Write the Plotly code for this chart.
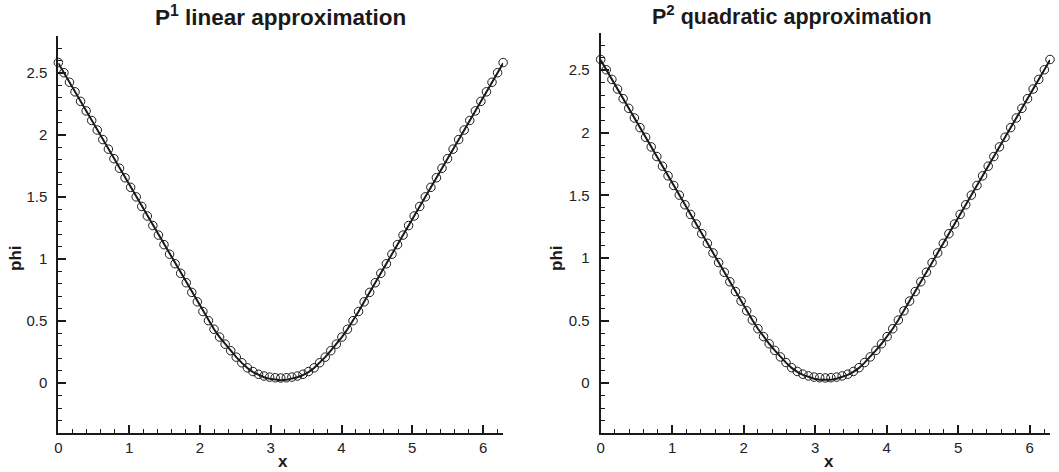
import plotly.graph_objects as go

x_vals = [0.0000, 0.0785, 0.1571, 0.2356, 0.3142, 0.3927, 0.4712, 0.5498, 0.6283, 0.7069,
          0.7854, 0.8639, 0.9425, 1.0210, 1.0996, 1.1781, 1.2566, 1.3352, 1.4137, 1.4923,
          1.5708, 1.6493, 1.7279, 1.8064, 1.8850, 1.9635, 2.0420, 2.1206, 2.1991, 2.2777,
          2.3562, 2.4347, 2.5133, 2.5918, 2.6704, 2.7489, 2.8274, 2.9060, 2.9845, 3.0631,
          3.1416,
          3.2201, 3.2987, 3.3772, 3.4558, 3.5343, 3.6128, 3.6914, 3.7699, 3.8485, 3.9270,
          4.0055, 4.0841, 4.1626, 4.2412, 4.3197, 4.3982, 4.4768, 4.5553, 4.6339, 4.7124,
          4.7909, 4.8695, 4.9480, 5.0265, 5.1051, 5.1836, 5.2622, 5.3407, 5.4192, 5.4978,
          5.5763, 5.6549, 5.7334, 5.8119, 5.8905, 5.9690, 6.0476, 6.1261, 6.2046, 6.2832]

phi_exact = [2.580, 2.503, 2.426, 2.349, 2.272, 2.195, 2.118, 2.041, 1.964, 1.887,
             1.810, 1.733, 1.656, 1.579, 1.502, 1.425, 1.348, 1.271, 1.194, 1.117,
             1.040, 0.963, 0.886, 0.810, 0.732, 0.656, 0.578, 0.504, 0.435, 0.372,
             0.315, 0.262, 0.210, 0.164, 0.122, 0.090, 0.066, 0.048, 0.035, 0.027,
             0.024,
             0.027, 0.035, 0.048, 0.066, 0.090, 0.122, 0.164, 0.210, 0.262, 0.315,
             0.372, 0.435, 0.504, 0.578, 0.656, 0.732, 0.810, 0.886, 0.963, 1.040,
             1.117, 1.194, 1.271, 1.348, 1.425, 1.502, 1.579, 1.656, 1.733, 1.810,
             1.887, 1.964, 2.041, 2.118, 2.195, 2.272, 2.349, 2.426, 2.503, 2.580]

phi_p1 = [2.585, 2.503, 2.426, 2.349, 2.272, 2.195, 2.118, 2.041, 1.964, 1.887,
          1.810, 1.733, 1.656, 1.579, 1.502, 1.425, 1.348, 1.271, 1.194, 1.117,
          1.040, 0.963, 0.886, 0.810, 0.732, 0.656, 0.578, 0.504, 0.435, 0.372,
          0.315, 0.262, 0.210, 0.165, 0.124, 0.094, 0.072, 0.058, 0.049, 0.044,
          0.042,
          0.044, 0.049, 0.058, 0.072, 0.094, 0.124, 0.165, 0.210, 0.262, 0.315,
          0.372, 0.435, 0.504, 0.578, 0.656, 0.732, 0.810, 0.886, 0.963, 1.040,
          1.117, 1.194, 1.271, 1.348, 1.425, 1.502, 1.579, 1.656, 1.733, 1.810,
          1.887, 1.964, 2.041, 2.118, 2.195, 2.272, 2.349, 2.426, 2.503, 2.585]

phi_p2 = [2.585, 2.503, 2.426, 2.349, 2.272, 2.195, 2.118, 2.041, 1.964, 1.887,
          1.810, 1.733, 1.656, 1.579, 1.502, 1.425, 1.348, 1.271, 1.194, 1.117,
          1.040, 0.963, 0.886, 0.810, 0.732, 0.656, 0.578, 0.504, 0.435, 0.372,
          0.315, 0.262, 0.210, 0.165, 0.124, 0.094, 0.072, 0.058, 0.049, 0.044,
          0.042,
          0.044, 0.049, 0.058, 0.072, 0.094, 0.124, 0.165, 0.210, 0.262, 0.315,
          0.372, 0.435, 0.504, 0.578, 0.656, 0.732, 0.810, 0.886, 0.963, 1.040,
          1.117, 1.194, 1.271, 1.348, 1.425, 1.502, 1.579, 1.656, 1.733, 1.810,
          1.887, 1.964, 2.041, 2.118, 2.195, 2.272, 2.349, 2.426, 2.503, 2.585]

titles = ["P<sup>1</sup> linear approximation", "P<sup>2</sup> quadratic approximation"]
x_ticks = [0, 1, 2, 3, 4, 5, 6]
y_ticks = [0, 0.5, 1, 1.5, 2, 2.5]
y_labels = ["0", "0.5", "1", "1.5", "2", "2.5"]

FONT = "Liberation Sans, Arial, sans-serif"
INK = "#1a1a1a"

fig = go.Figure()
for numeric, sfx in [(phi_p1, ""), (phi_p2, "2")]:
    fig.add_trace(go.Scatter(x=x_vals, y=phi_exact, mode="lines",
                             line=dict(color=INK, width=2),
                             xaxis="x" + sfx, yaxis="y" + sfx, showlegend=False,
                             cliponaxis=False, hoverinfo="skip"))
    fig.add_trace(go.Scatter(x=x_vals, y=numeric, mode="markers",
                             marker=dict(symbol="circle-open", size=8.5,
                                         color=INK, line=dict(width=1)),
                             xaxis="x" + sfx, yaxis="y" + sfx, showlegend=False,
                             cliponaxis=False))

xax = dict(range=[0, 6.2832], tickvals=x_ticks, ticks="inside", ticklen=8, tickwidth=1.6,
           tickcolor=INK, showline=True, linewidth=2, linecolor=INK,
           showgrid=False, zeroline=False, tickfont=dict(family=FONT, size=15, color="#222"),
           minor=dict(dtick=0.2, tick0=0, ticks="inside", ticklen=4, tickwidth=1.2,
                      tickcolor=INK, showgrid=False),
           fixedrange=True)
yax = dict(range=[-0.4, 2.8], tickvals=y_ticks, ticktext=y_labels, ticks="inside", ticklen=8,
           tickwidth=1.6, tickcolor=INK, showline=True, linewidth=2,
           linecolor=INK, showgrid=False, zeroline=False, ticklabelstandoff=6,
           tickfont=dict(family=FONT, size=15, color="#222"),
           minor=dict(dtick=0.1, tick0=0, ticks="inside", ticklen=4, tickwidth=1.2,
                      tickcolor=INK, showgrid=False),
           fixedrange=True)

fig.update_layout(
    width=1059, height=472,
    margin=dict(l=0, r=0, t=0, b=0, autoexpand=False),
    paper_bgcolor="white", plot_bgcolor="white",
    xaxis=dict(xax, domain=[0.0551, 0.4751], anchor="y", automargin=False),
    yaxis=dict(yax, domain=[0.083, 0.924], anchor="x", automargin=False),
    xaxis2=dict(xax, domain=[0.5672, 0.9915], anchor="y2", automargin=False),
    yaxis2=dict(yax, domain=[0.082, 0.931], anchor="x2", automargin=False),
)

annots = [
    dict(text="<b>" + titles[0] + "</b>", x=280, y=16, size=22.5),
    dict(text="<b>" + titles[1] + "</b>", x=792, y=15, size=21.5),
    dict(text="<b>x</b>", x=283, y=461, size=17),
    dict(text="<b>x</b>", x=829, y=461, size=17),
]
for a in annots:
    fig.add_annotation(text=a["text"], xref="paper", yref="paper",
                       x=a["x"] / 1059, y=1 - a["y"] / 472, xanchor="center", yanchor="middle",
                       showarrow=False,
                       font=dict(family=FONT, size=a["size"], color=INK))
for px in (15, 556):
    fig.add_annotation(text="<b>phi</b>", xref="paper", yref="paper",
                       x=px / 1059, y=1 - 258 / 472, xanchor="center", yanchor="middle",
                       showarrow=False, textangle=-90,
                       font=dict(family=FONT, size=17, color=INK))

fig.write_html("out.html", config={"displayModeBar": False},
               post_script="document.body.style.margin='0';"
                           "document.body.style.overflow='hidden';")
